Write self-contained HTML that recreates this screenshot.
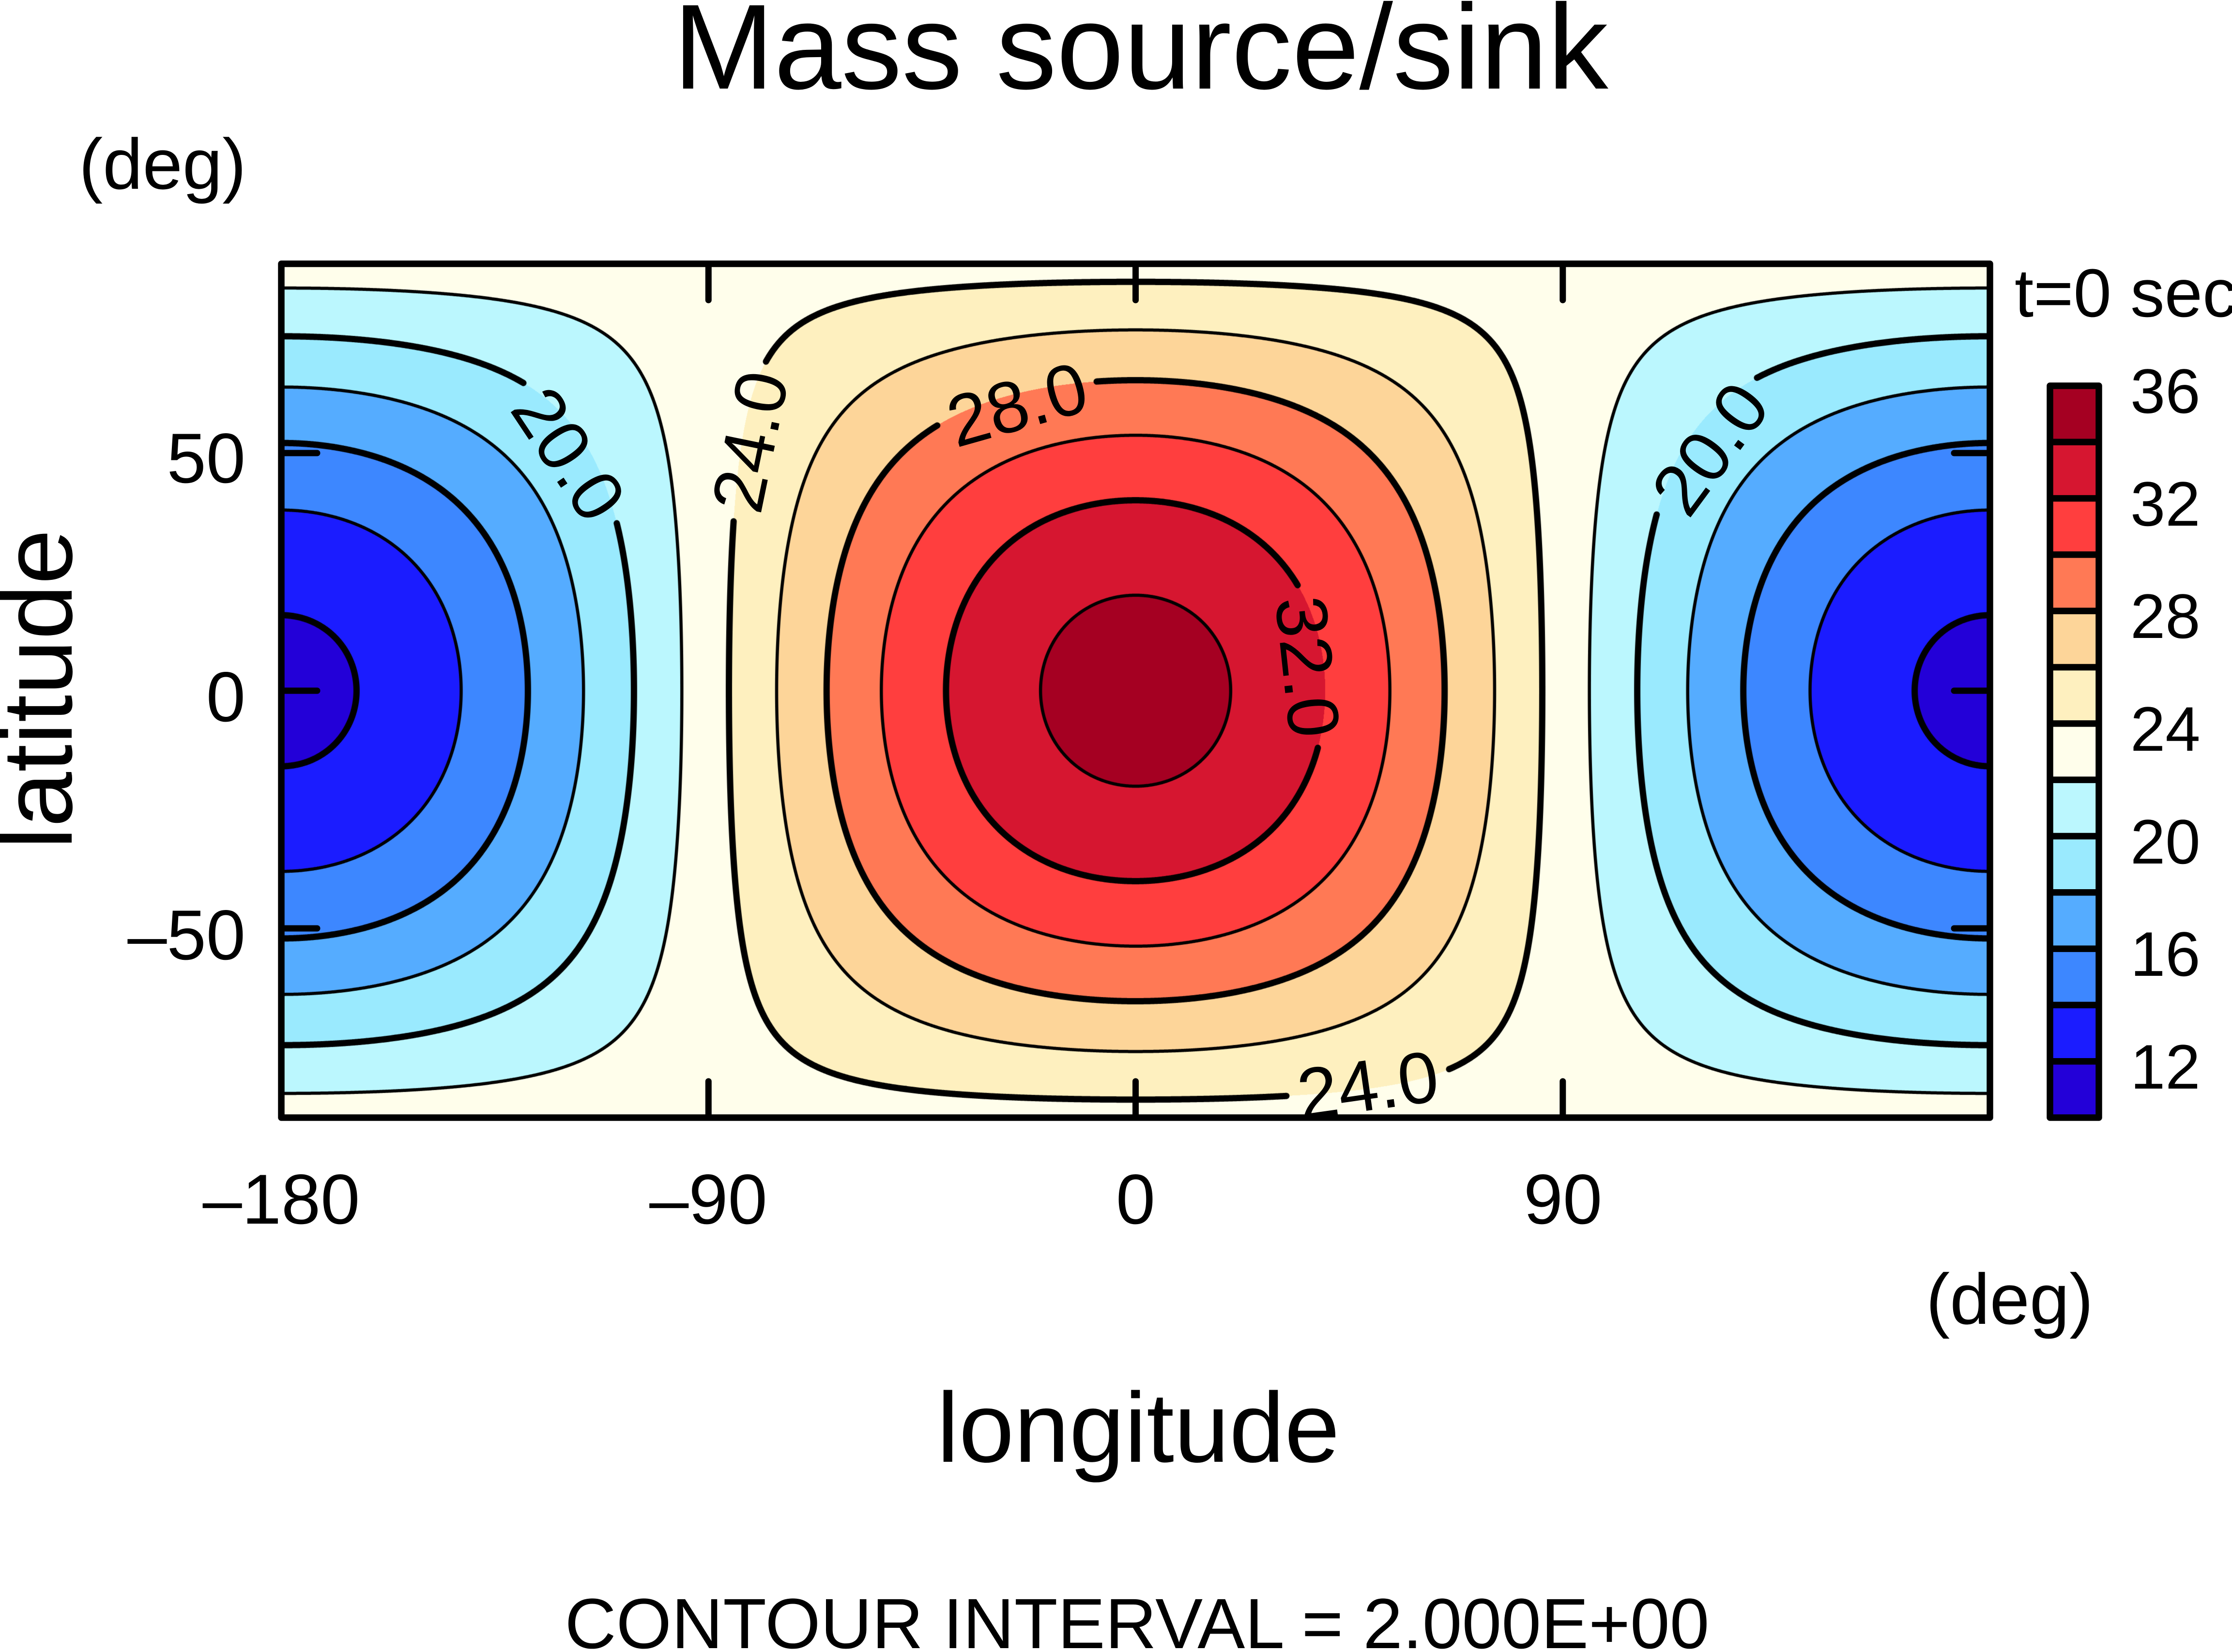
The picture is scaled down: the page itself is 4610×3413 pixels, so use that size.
<!DOCTYPE html>
<html>
<head>
<meta charset="utf-8">
<style>
html,body{margin:0;padding:0;background:#fff;}
body{width:4610px;height:3413px;position:relative;overflow:hidden;}
#c{position:absolute;left:0;top:0;}
#s{position:absolute;left:0;top:0;}
text{font-family:"Liberation Sans",Arial,Helvetica,sans-serif;fill:#000;}
</style>
</head>
<body>
<canvas id="c" width="4610" height="3413"></canvas>
<svg id="s" width="4610" height="3413" viewBox="0 0 4610 3413" xmlns="http://www.w3.org/2000/svg">
  <!-- Title -->
  <text x="2356" y="183" font-size="250" text-anchor="middle">Mass source/sink</text>
  <!-- (deg) upper-left -->
  <text x="163" y="390" font-size="148">(deg)</text>
  <!-- t=0 sec -->
  <text x="4161" y="654" font-size="141">t=0 sec</text>

  <!-- Frame -->
  <rect x="581" y="545" width="3529" height="1764" fill="none" stroke="#000" stroke-width="13.5" stroke-linejoin="round"/>
  <!-- Ticks -->
  <g stroke="#000" stroke-width="13" stroke-linecap="round" fill="none">
    <line x1="1463.3" y1="545" x2="1463.3" y2="620"/>
    <line x1="2345.5" y1="545" x2="2345.5" y2="620"/>
    <line x1="3227.8" y1="545" x2="3227.8" y2="620"/>
    <line x1="1463.3" y1="2309" x2="1463.3" y2="2234"/>
    <line x1="2345.5" y1="2309" x2="2345.5" y2="2234"/>
    <line x1="3227.8" y1="2309" x2="3227.8" y2="2234"/>
    <line x1="581" y1="936" x2="655" y2="936"/>
    <line x1="581" y1="1427" x2="655" y2="1427"/>
    <line x1="581" y1="1918" x2="655" y2="1918"/>
    <line x1="4110" y1="936" x2="4036" y2="936"/>
    <line x1="4110" y1="1427" x2="4036" y2="1427"/>
    <line x1="4110" y1="1918" x2="4036" y2="1918"/>
  </g>

  <!-- X tick labels -->
  <g font-size="146" text-anchor="middle">
    <text x="581" y="2528">&#8211;180</text>
    <text x="1463" y="2528">&#8211;90</text>
    <text x="2345.5" y="2528">0</text>
    <text x="3228" y="2528">90</text>
  </g>
  <!-- Y tick labels -->
  <g font-size="146" text-anchor="end">
    <text x="507" y="997">50</text>
    <text x="507" y="1490">0</text>
    <text x="507" y="1982">&#8211;50</text>
  </g>
  <!-- (deg) lower-right -->
  <text x="3978" y="2735" font-size="148">(deg)</text>
  <!-- axis titles -->
  <text x="2351" y="3020" font-size="205" text-anchor="middle">longitude</text>
  <text transform="translate(148,1424) rotate(-90)" x="0" y="0" font-size="205" text-anchor="middle">latitude</text>
  <!-- Contour interval -->
  <text x="2348.5" y="3405" font-size="147" text-anchor="middle">CONTOUR INTERVAL = 2.000E+00</text>

  <!-- Colorbar -->
  <g stroke="none">
    <rect x="4234" y="797" width="101" height="116.31" fill="#a50022"/>
    <rect x="4234" y="913.31" width="101" height="116.31" fill="#d61630"/>
    <rect x="4234" y="1029.62" width="101" height="116.31" fill="#ff3e3e"/>
    <rect x="4234" y="1145.92" width="101" height="116.31" fill="#ff7955"/>
    <rect x="4234" y="1262.23" width="101" height="116.31" fill="#fdd599"/>
    <rect x="4234" y="1378.54" width="101" height="116.31" fill="#fef0bf"/>
    <rect x="4234" y="1494.85" width="101" height="116.31" fill="#fffeeb"/>
    <rect x="4234" y="1611.15" width="101" height="116.31" fill="#bbf7fe"/>
    <rect x="4234" y="1727.46" width="101" height="116.31" fill="#9aeafe"/>
    <rect x="4234" y="1843.77" width="101" height="116.31" fill="#55acff"/>
    <rect x="4234" y="1960.08" width="101" height="116.31" fill="#3d87ff"/>
    <rect x="4234" y="2076.38" width="101" height="116.31" fill="#1b1cff"/>
    <rect x="4234" y="2192.69" width="101" height="116.31" fill="#2300d8"/>
  </g>
  <g stroke="#000" stroke-width="13.5" fill="none" stroke-linejoin="round">
    <line x1="4234" y1="913.31" x2="4335" y2="913.31"/>
    <line x1="4234" y1="1029.62" x2="4335" y2="1029.62"/>
    <line x1="4234" y1="1145.92" x2="4335" y2="1145.92"/>
    <line x1="4234" y1="1262.23" x2="4335" y2="1262.23"/>
    <line x1="4234" y1="1378.54" x2="4335" y2="1378.54"/>
    <line x1="4234" y1="1494.85" x2="4335" y2="1494.85"/>
    <line x1="4234" y1="1611.15" x2="4335" y2="1611.15"/>
    <line x1="4234" y1="1727.46" x2="4335" y2="1727.46"/>
    <line x1="4234" y1="1843.77" x2="4335" y2="1843.77"/>
    <line x1="4234" y1="1960.08" x2="4335" y2="1960.08"/>
    <line x1="4234" y1="2076.38" x2="4335" y2="2076.38"/>
    <line x1="4234" y1="2192.69" x2="4335" y2="2192.69"/>
    <rect x="4234" y="797" width="101" height="1512"/>
  </g>
  <g font-size="130">
    <text x="4400" y="853">36</text>
    <text x="4400" y="1086">32</text>
    <text x="4400" y="1318">28</text>
    <text x="4400" y="1551">24</text>
    <text x="4400" y="1784">20</text>
    <text x="4400" y="2016">16</text>
    <text x="4400" y="2249">12</text>
  </g>

  <!-- Contour labels -->
  <g font-size="150" text-anchor="middle">
    <text transform="translate(1176.5,937) rotate(56.36)" x="0" y="54">20.0</text>
    <text transform="translate(1547,912) rotate(-78.36)" x="0" y="54">24.0</text>
    <text transform="translate(2100.5,833.5) rotate(-15.78)" x="0" y="54">28.0</text>
    <text transform="translate(2703,1377.5) rotate(83.90)" x="0" y="54">32.0</text>
    <text transform="translate(2825,2240) rotate(-8.08)" x="0" y="54">24.0</text>
    <text transform="translate(3530.5,925.5) rotate(-53.55)" x="0" y="54">20.0</text>
  </g>
</svg>
<script>
(function(){
  var cv=document.getElementById('c');
  var ctx=cv.getContext('2d');
  var X0=581, X1=4110, Y0=545, Y1=2309;
  var W=X1-X0, H=Y1-Y0;
  var C0=23.13, C1=0.11, A=11.46;
  var D=Math.PI/180;
  var cols=['#2300d8','#1b1cff','#3d87ff','#55acff','#9aeafe','#bbf7fe','#fffeeb','#fef0bf','#fdd599','#ff7955','#ff3e3e','#d61630','#a50022'];
  var rgb=cols.map(function(h){return [parseInt(h.substr(1,2),16),parseInt(h.substr(3,2),16),parseInt(h.substr(5,2),16)];});
  function lonX(x){return (x-X0)/W*360-180;}
  function latY(y){return 90-(y-Y0)/H*180;}

  // Filled field
  var img=ctx.createImageData(W,H);
  var dat=img.data;
  var cl=new Float64Array(W);
  for(var i=0;i<W;i++) cl[i]=Math.cos(lonX(X0+i+0.5)*D);
  for(var j=0;j<H;j++){
    var ct=C1+A*Math.cos(latY(Y0+j+0.5)*D);
    var row=j*W;
    for(var i2=0;i2<W;i2++){
      var v=C0+cl[i2]*ct;
      var k=Math.floor((v-10)/2);
      if(k<0)k=0; if(k>12)k=12;
      var p=(row+i2)*4, c=rgb[k];
      dat[p]=c[0]; dat[p+1]=c[1]; dat[p+2]=c[2]; dat[p+3]=255;
    }
  }
  ctx.putImageData(img,X0,Y0);

  // Label gaps
  var labels=[
    {L:20,x1:1080,y1:792,x2:1273,y2:1082},
    {L:24,x1:1513,y1:1077,x2:1581,y2:747},
    {L:28,x1:1936,y1:880,x2:2265,y2:787},
    {L:32,x1:2685,y1:1209,x2:2721,y2:1546},
    {L:24,x1:2656,y1:2264,x2:2994,y2:2216},
    {L:20,x1:3426,y1:1067,x2:3635,y2:784}
  ];
  labels.forEach(function(o){
    o.cx=(o.x1+o.x2)/2; o.cy=(o.y1+o.y2)/2;
    var dx=o.x2-o.x1, dy=o.y2-o.y1, len=Math.sqrt(dx*dx+dy*dy);
    o.ca=dx/len; o.sa=dy/len; o.h=len/2;
  });
  function excluded(L,x,y){
    for(var q=0;q<labels.length;q++){
      var o=labels[q]; if(o.L!==L) continue;
      var rx=x-o.cx, ry=y-o.cy;
      var u=rx*o.ca+ry*o.sa, w=-rx*o.sa+ry*o.ca;
      if(Math.abs(u)<o.h && Math.abs(w)<75) return true;
    }
    return false;
  }

  // Grid for contours
  var S=2;
  var nx=Math.ceil(W/S)+1, ny=Math.ceil(H/S)+1;
  var gx=new Float64Array(nx), gy=new Float64Array(ny);
  for(var a=0;a<nx;a++) gx[a]=Math.min(X0+a*S,X1);
  for(var b=0;b<ny;b++) gy[b]=Math.min(Y0+b*S,Y1);
  var cosl=new Float64Array(nx);
  for(var a2=0;a2<nx;a2++) cosl[a2]=Math.cos(lonX(gx[a2])*D);
  var G=new Float64Array(nx*ny);
  for(var b2=0;b2<ny;b2++){
    var ct2=C1+A*Math.cos(latY(gy[b2])*D);
    for(var a3=0;a3<nx;a3++) G[b2*nx+a3]=C0+cosl[a3]*ct2;
  }

  ctx.save();
  ctx.beginPath(); ctx.rect(X0,Y0,W,H); ctx.clip();
  ctx.strokeStyle='#000';
  ctx.lineCap='round'; ctx.lineJoin='round';
  for(var L=12;L<=34;L+=2){
    ctx.lineWidth=(L%4===0)?13:6.5;
    ctx.beginPath();
    for(var jj=0;jj<ny-1;jj++){
      var y0=gy[jj], y1=gy[jj+1];
      for(var ii=0;ii<nx-1;ii++){
        var va=G[jj*nx+ii], vb=G[jj*nx+ii+1], vc=G[(jj+1)*nx+ii+1], vd=G[(jj+1)*nx+ii];
        var sa=va>L, sb=vb>L, sc=vc>L, sd=vd>L;
        if(sa===sb && sb===sc && sc===sd) continue;
        var x0=gx[ii], x1=gx[ii+1];
        var pts=[];
        var T=null,R=null,B=null,Lf=null;
        if(sa!==sb){T=[x0+(L-va)/(vb-va)*(x1-x0),y0];}
        if(sb!==sc){R=[x1,y0+(L-vb)/(vc-vb)*(y1-y0)];}
        if(sd!==sc){B=[x0+(L-vd)/(vc-vd)*(x1-x0),y1];}
        if(sa!==sd){Lf=[x0,y0+(L-va)/(vd-va)*(y1-y0)];}
        var segs=[];
        var list=[T,R,B,Lf].filter(function(e){return e!==null;});
        if(list.length===2){segs.push([list[0],list[1]]);}
        else if(list.length===4){
          var cen=(va+vb+vc+vd)/4;
          if((cen>L)===sa){segs.push([T,R]);segs.push([B,Lf]);}
          else{segs.push([T,Lf]);segs.push([R,B]);}
        }
        for(var s=0;s<segs.length;s++){
          var p1=segs[s][0], p2=segs[s][1];
          var mx=(p1[0]+p2[0])/2, my=(p1[1]+p2[1])/2;
          if(excluded(L,mx,my)) continue;
          ctx.moveTo(p1[0],p1[1]); ctx.lineTo(p2[0],p2[1]);
        }
      }
    }
    ctx.stroke();
  }
  ctx.restore();
})();
</script>
</body>
</html>
